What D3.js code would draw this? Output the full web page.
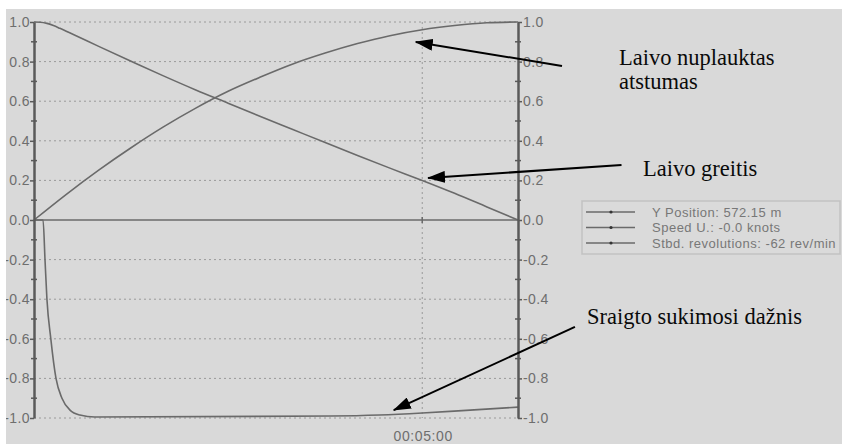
<!DOCTYPE html>
<html><head><meta charset="utf-8">
<script src="https://cdn.jsdelivr.net/npm/d3@7"></script>
<style>html,body{margin:0;padding:0;background:#fff;}svg{display:block;}</style>
</head><body>
<script>
// ---- data (time in seconds, values normalised) ----
const posTime = [0,25,50,75,100,125,150,175,200,225,250,275,300,325,350,374];
const posValue = [0,0.13,0.252,0.365,0.47,0.565,0.65,0.722,0.788,0.843,0.891,0.931,0.961,0.982,0.996,1.0];
const speedTime = [0,5,10,15,20,30,50,75,100,125,150,175,200,225,250,275,300,325,350,374];
const speedValue = [1.0,0.999,0.993,0.982,0.968,0.938,0.877,0.802,0.728,0.657,0.59,0.523,0.457,0.391,0.326,0.262,0.2,0.135,0.066,0.0];
const revTime = [0,7,8.5,10,13,17,21.6,27.8,35.5,47,229,267,300,337,374];
const revValue = [0,0,-0.2,-0.4,-0.6,-0.8,-0.9,-0.96,-0.985,-0.995,-0.99,-0.985,-0.975,-0.96,-0.945];
const yTicks = [-1,-0.8,-0.6,-0.4,-0.2,0,0.2,0.4,0.6,0.8,1.0];
const yMinor = [-0.9,-0.7,-0.5,-0.3,-0.1,0.1,0.3,0.5,0.7,0.9];
const xTicks = [300];
const xTickLabels = ["00:05:00"];
const legendLabels = ["Y Position: 572.15 m","Speed U.: -0.0 knots","Stbd. revolutions: -62 rev/min"];
// annotations in data units: [t, v]
const annotations = [
  {lines:["Laivo nuplauktas","atstumas"], text:[452,0.783], from:[408,0.778], to:[295,0.899]},
  {lines:["Laivo greitis"], text:[470.6,0.222], from:[454,0.278], to:[304.5,0.212]},
  {lines:["Sraigto sukimosi dažnis"], text:[427.3,-0.525], from:[418,-0.54], to:[278,-0.96]}
];

const SANS='"Liberation Sans", Arial, sans-serif';
const SERIF='"Liberation Serif", "Times New Roman", Times, serif';
const W=842,H=444;
const svg=d3.select("body").append("svg").attr("width",W).attr("height",H);
svg.append("rect").attr("width",W).attr("height",H).attr("fill","#d9d9d9");

const x=d3.scaleLinear().domain([0,374]).range([34,518]);
const y=d3.scaleLinear().domain([-1,1]).range([418,22]);
const gridC="#9a9a9a", axisC="#5a5a5a", lineC="#6a6a6a", textC="#6e6e6e";

// gridlines
svg.append("g").selectAll("line").data(yTicks.filter(d=>d!==0)).join("line")
  .attr("x1",x(0)).attr("x2",x(374)).attr("y1",d=>y(d)).attr("y2",d=>y(d))
  .attr("stroke",gridC).attr("stroke-width",1).attr("stroke-dasharray","2,3");
svg.append("g").selectAll("line").data(xTicks).join("line")
  .attr("x1",d=>x(d)).attr("x2",d=>x(d)).attr("y1",y(1)).attr("y2",y(-1))
  .attr("stroke",gridC).attr("stroke-width",1).attr("stroke-dasharray","2,3");
// zero line
svg.append("line").attr("x1",x(0)).attr("x2",x(374)).attr("y1",y(0)).attr("y2",y(0))
  .attr("stroke",lineC).attr("stroke-width",1.6);
svg.append("g").selectAll("line").data(xTicks).join("line")
  .attr("x1",d=>x(d)).attr("x2",d=>x(d)).attr("y1",y(0)-3).attr("y2",y(0)+3)
  .attr("stroke",lineC).attr("stroke-width",1.5);

// series
const mk=(t,v)=>t.map((d,i)=>[d,v[i]]);
const line=d3.line().x(d=>x(d[0])).y(d=>y(d[1])).curve(d3.curveMonotoneX);
[mk(posTime,posValue),mk(speedTime,speedValue),mk(revTime,revValue)].forEach(s=>{
  svg.append("path").attr("d",line(s)).attr("fill","none").attr("stroke",lineC).attr("stroke-width",1.6);
});

// axes
const fmt=d=>d.toFixed(1);
function styleAxis(g){
  g.attr("font-family",null);
  g.select(".domain").attr("stroke",axisC).attr("stroke-width",2.5);
  g.selectAll(".tick line").attr("stroke",axisC).attr("stroke-width",1.5);
  g.selectAll("text").attr("fill",textC).style("font-family",SANS)
    .style("font-size","14px").style("letter-spacing","0.4px");
}
const gl=svg.append("g").attr("transform",`translate(${x(0)},0)`)
  .call(d3.axisLeft(y).tickValues(yTicks).tickFormat(fmt).tickSizeInner(4).tickSizeOuter(0).tickPadding(0));
styleAxis(gl);
const gr=svg.append("g").attr("transform",`translate(${x(374)},0)`)
  .call(d3.axisRight(y).tickValues(yTicks).tickFormat(fmt).tickSizeInner(4).tickSizeOuter(0).tickPadding(1));
styleAxis(gr);
[x(0),x(374)].forEach(px=>{
  svg.append("g").selectAll("line").data(yMinor).join("line")
    .attr("x1",px-3).attr("x2",px+3).attr("y1",d=>y(d)).attr("y2",d=>y(d))
    .attr("stroke",axisC).attr("stroke-width",1.5);
});
// x tick label
svg.append("g").selectAll("text").data(xTicks).join("text")
  .attr("x",d=>x(d)+1).attr("y",441).attr("text-anchor","middle")
  .attr("fill",textC).style("font-family",SANS).style("font-size","14px").style("letter-spacing","0.6px")
  .text((d,i)=>xTickLabels[i]);

// legend
const lg=svg.append("g").attr("transform","translate(582,201)");
lg.append("rect").attr("width",258).attr("height",53).attr("fill","#dadada")
  .attr("stroke","#c2c2c2").attr("stroke-width",1.5);
legendLabels.forEach((t,i)=>{
  const yy=11+i*15.5;
  lg.append("line").attr("x1",4).attr("x2",53).attr("y1",yy).attr("y2",yy).attr("stroke",lineC).attr("stroke-width",1.5);
  lg.append("circle").attr("cx",29).attr("cy",yy).attr("r",1.6).attr("fill","#333");
  lg.append("text").attr("x",70).attr("y",yy+4.5).attr("fill","#777")
    .style("font-family",SANS).style("font-size","13px").style("letter-spacing","0.5px").text(t);
});

// annotations
const defs=svg.append("defs");
defs.append("marker").attr("id","ah").attr("markerUnits","userSpaceOnUse")
  .attr("viewBox","0 0 18 12").attr("refX",17).attr("refY",6)
  .attr("markerWidth",18).attr("markerHeight",12).attr("orient","auto")
  .append("path").attr("d","M0,0L18,6L0,12Z").attr("fill","#000");
annotations.forEach(a=>{
  svg.append("line").attr("x1",x(a.from[0])).attr("y1",y(a.from[1]))
    .attr("x2",x(a.to[0])).attr("y2",y(a.to[1]))
    .attr("stroke","#000").attr("stroke-width",2).attr("marker-end","url(#ah)");
  a.lines.forEach((l,i)=>{
    svg.append("text").attr("x",x(a.text[0])).attr("y",y(a.text[1])+i*24)
      .style("font-family",SERIF).style("font-size","22.5px").attr("fill","#0a0a0a").text(l);
  });
});

// white margins
svg.append("rect").attr("x",0).attr("y",0).attr("width",W).attr("height",9).attr("fill","#fff");
svg.append("rect").attr("x",0).attr("y",0).attr("width",6).attr("height",H).attr("fill","#fff");
</script>
</body></html>
